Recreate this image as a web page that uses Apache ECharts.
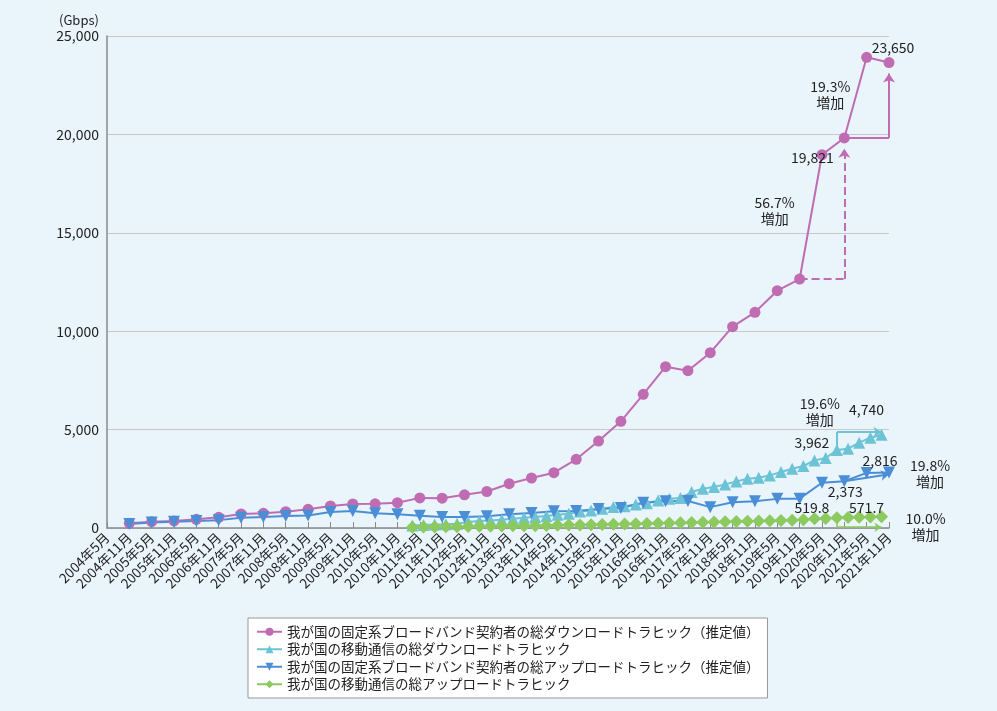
<!DOCTYPE html>
<html>
<head>
<meta charset="utf-8">
<script src="https://cdn.jsdelivr.net/npm/echarts@6/dist/echarts.min.js"></script>
<style>
html,body{margin:0;padding:0;background:#eaf4fb;}
#c{width:997px;height:711px;}
</style>
</head>
<body>
<div id="c"></div>
<script>
// ---- data ----
const fixedDates = ['2004-11','2005-05','2005-11','2006-05','2006-11','2007-05','2007-11','2008-05','2008-11','2009-05','2009-11','2010-05','2010-11','2011-05','2011-11','2012-05','2012-11','2013-05','2013-11','2014-05','2014-11','2015-05','2015-11','2016-05','2016-11','2017-05','2017-11','2018-05','2018-11','2019-05','2019-11','2020-05','2020-11','2021-05','2021-11'];
const fixedDown = [239,320,360,442,544,711,747,828,950,1118,1219,1230,1285,1530,1515,1685,1855,2251,2540,2810,3491,4420,5421,6793,8196,7993,8907,10228,10960,12057,12650,18968,19821,23917,23650];
const fixedUp = [200,280,320,360,400,520,560,610,640,810,860,750,700,620,560,560,600,700,760,850,860,970,1020,1280,1360,1370,1060,1310,1360,1480,1490,2300,2373,2800,2816];

const mobileDates = ['2011-03','2011-06','2011-09','2011-12','2012-03','2012-06','2012-09','2012-12','2013-03','2013-06','2013-09','2013-12','2014-03','2014-06','2014-09','2014-12','2015-03','2015-06','2015-09','2015-12','2016-03','2016-06','2016-09','2016-12','2017-03','2017-06','2017-09','2017-12','2018-03','2018-06','2018-09','2018-12','2019-03','2019-06','2019-09','2019-12','2020-03','2020-06','2020-09','2020-12','2021-03','2021-06','2021-09'];
const mobileDown = [130,150,175,195,218,300,350,386,422,472,523,559,610,676,726,843,894,981,1067,1110,1190,1260,1403,1489,1522,1827,1997,2083,2216,2369,2505,2556,2674,2844,3013,3150,3436,3557,3962,4029,4334,4588,4740];
const mobileUp = [40,45,52,60,68,75,85,92,100,108,110,118,128,138,148,158,168,178,190,200,215,225,240,255,262,280,295,305,315,330,345,355,370,385,400,415,470,480,519.8,530,545,560,571.7];

const seriesNames = [
  '我が国の固定系ブロードバンド契約者の総ダウンロードトラヒック（推定値）',
  '我が国の移動通信の総ダウンロードトラヒック',
  '我が国の固定系ブロードバンド契約者の総アップロードトラヒック（推定値）',
  '我が国の移動通信の総アップロードトラヒック'
];
const colors = ['#c06cb2','#6cc3d6','#4a8ed6','#8cc95f'];

// ---- helpers ----
function mIdx(s){ const p = s.split('-').map(Number); return (p[0]-2004)*12 + (p[1]-5); }
function pairs(dates, vals){ return dates.map((d,i)=>[mIdx(d), vals[i]]); }
function fmtMonth(v){ const t = 4 + v; return (2004 + Math.floor(t/12)) + '年' + (t%12 + 1) + '月'; }
const FONT = '"Noto Sans CJK JP","Noto Sans",sans-serif';
const TXT = '#222';

function seg(a, b, arrow, style){
  return [{coord:a, symbol:'none', lineStyle:style}, {coord:b, symbol: arrow ? 'arrow' : 'none', lineStyle:style}];
}
function lab(coord, text, offset){
  return {coord:coord, label:{formatter:text, offset:offset}};
}
const markPointBase = {
  symbol:'circle', symbolSize:0, silent:true,
  label:{show:true, color:TXT, fontSize:14, fontFamily:FONT, lineHeight:16, align:'center', verticalAlign:'middle'}
};

const vFix20_11 = fixedDown[fixedDates.indexOf('2020-11')];
const vFix19_11 = fixedDown[fixedDates.indexOf('2019-11')];
const vFix21_11 = fixedDown[fixedDates.indexOf('2021-11')];
const vUp20_11 = fixedUp[fixedDates.indexOf('2020-11')];
const vUp21_11 = fixedUp[fixedDates.indexOf('2021-11')];
const vMob20_09 = mobileDown[mobileDates.indexOf('2020-09')];
const vMob21_09 = mobileDown[mobileDates.indexOf('2021-09')];
const vMU20_09 = mobileUp[mobileDates.indexOf('2020-09')];
const vMU21_09 = mobileUp[mobileDates.indexOf('2021-09')];

const chart = echarts.init(document.getElementById('c'), null, {renderer:'canvas'});
const option = {
  backgroundColor:'#eaf4fb',
  animation:false,
  textStyle:{fontFamily:FONT},
  title:{text:'(Gbps)', left:54, top:9, textStyle:{fontSize:13, fontWeight:'normal', color:TXT, fontFamily:FONT}},
  grid:{left:107, right:108, top:36, bottom:183, containLabel:false},
  legend:{
    orient:'vertical', left:248, top:618,
    backgroundColor:'#ffffff', borderColor:'#999', borderWidth:1,
    padding:[7,8,7,8], itemGap:4, itemWidth:25, itemHeight:10,
    textStyle:{fontSize:13.5, color:TXT, fontFamily:FONT},
    data:seriesNames
  },
  xAxis:{
    type:'value', min:0, max:210, interval:6,
    axisLine:{show:true, lineStyle:{color:'#8a8a8a', width:1.5}},
    axisTick:{show:true, inside:true, length:6, lineStyle:{color:'#8a8a8a'}},
    splitLine:{show:false},
    axisLabel:{rotate:45, formatter:fmtMonth, fontSize:13.5, color:TXT, margin:7, fontFamily:FONT, showMinLabel:true, showMaxLabel:true}
  },
  yAxis:{
    type:'value', min:0, max:25000, interval:5000,
    axisLine:{show:true, lineStyle:{color:'#8a8a8a', width:1.5}},
    axisTick:{show:false},
    splitLine:{show:true, lineStyle:{color:'#c8c8c8', width:1}},
    axisLabel:{formatter:v=>v.toLocaleString('en-US'), fontSize:14, color:TXT, margin:8, fontFamily:FONT}
  },
  series:[
    {
      name:seriesNames[0], type:'line', data:pairs(fixedDates, fixedDown),
      symbol:'circle', symbolSize:11, color:colors[0], lineStyle:{width:2},
      markLine:{silent:true, symbolSize:9, label:{show:false},
        data:[
          seg([mIdx('2019-11'), vFix19_11],[mIdx('2020-11'), vFix19_11], false, {color:colors[0], type:'dashed', width:2}),
          seg([mIdx('2020-11'), vFix19_11],[mIdx('2020-11'), vFix20_11-550], true, {color:colors[0], type:'dashed', width:2}),
          seg([mIdx('2020-11'), vFix20_11],[mIdx('2021-11'), vFix20_11], false, {color:colors[0], type:'solid', width:2}),
          seg([mIdx('2021-11'), vFix20_11],[mIdx('2021-11'), vFix21_11-550], true, {color:colors[0], type:'solid', width:2})
        ]},
      markPoint:Object.assign({}, markPointBase, {data:[
        lab([mIdx('2021-11'), vFix21_11], '23,650', [4,-15]),
        lab([mIdx('2020-11'), vFix20_11], '19,821', [-32,20]),
        lab([mIdx('2020-11'), vFix20_11], '19.3%\n増加', [-14,-43]),
        lab([mIdx('2019-11'), vFix19_11], '56.7%\n増加', [-25,-68])
      ]})
    },
    {
      name:seriesNames[1], type:'line', data:pairs(mobileDates, mobileDown),
      symbol:'triangle', symbolSize:12, color:colors[1], lineStyle:{width:2},
      markLine:{silent:true, symbolSize:8, label:{show:false},
        data:[
          seg([mIdx('2020-09'), vMob20_09],[mIdx('2020-09'), 4880], false, {color:colors[1], type:'solid', width:2}),
          seg([mIdx('2020-09'), 4880],[mIdx('2021-09'), 4880], true, {color:colors[1], type:'solid', width:2})
        ]},
      markPoint:Object.assign({}, markPointBase, {data:[
        lab([mIdx('2020-09'), vMob20_09], '19.6%\n増加', [-17,-38]),
        lab([mIdx('2020-09'), vMob20_09], '3,962', [-25,-7]),
        lab([mIdx('2021-09'), vMob21_09], '4,740', [-15,-25])
      ]})
    },
    {
      name:seriesNames[2], type:'line', data:pairs(fixedDates, fixedUp),
      symbol:'triangle', symbolRotate:180, symbolSize:12, color:colors[2], lineStyle:{width:2},
      markLine:{silent:true, symbolSize:8, label:{show:false},
        data:[
          seg([mIdx('2020-11'), vUp20_11],[mIdx('2021-11'), vUp21_11-80], true, {color:colors[2], type:'solid', width:2})
        ]},
      markPoint:Object.assign({}, markPointBase, {data:[
        lab([mIdx('2021-11'), vUp21_11], '2,816', [-9,-12]),
        lab([mIdx('2021-11'), vUp21_11], '19.8%\n増加', [41,1]),
        lab([mIdx('2020-11'), vUp20_11], '2,373', [1,10])
      ]})
    },
    {
      name:seriesNames[3], type:'line', data:pairs(mobileDates, mobileUp),
      symbol:'diamond', symbolSize:13, color:colors[3], lineStyle:{width:2},
      markLine:{silent:true, symbolSize:7, label:{show:false},
        data:[
          seg([mIdx('2020-09'), vMU20_09],[mIdx('2020-09'), 40], false, {color:colors[3], type:'solid', width:1.5}),
          seg([mIdx('2020-09'), 40],[mIdx('2021-09'), 40], true, {color:colors[3], type:'solid', width:1.5})
        ]},
      markPoint:Object.assign({}, markPointBase, {data:[
        lab([mIdx('2020-09'), vMU20_09], '519.8', [-25,-10]),
        lab([mIdx('2021-09'), vMU21_09], '571.7', [-15,-9]),
        lab([mIdx('2021-09'), vMU21_09], '10.0%\n増加', [44,10])
      ]})
    }
  ]
};
chart.setOption(option);
</script>
</body>
</html>
